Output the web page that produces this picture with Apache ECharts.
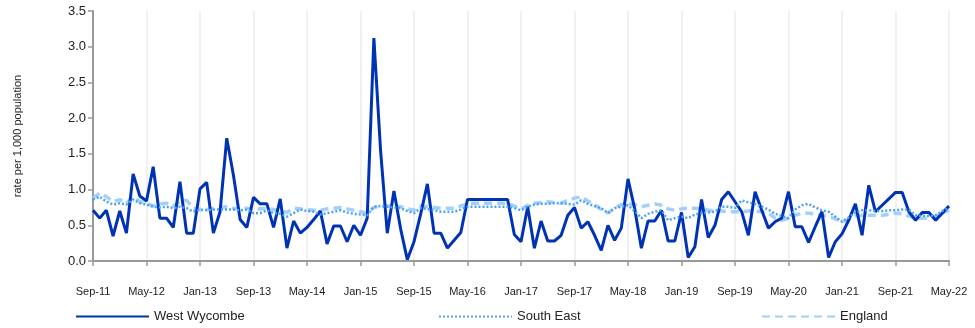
<!DOCTYPE html>
<html>
<head>
<meta charset="utf-8">
<script src="https://cdn.jsdelivr.net/npm/echarts@6/dist/echarts.min.js"></script>
<style>
  html, body { margin: 0; padding: 0; background: #fff; }
  #chart { width: 975px; height: 328px; }
</style>
</head>
<body>
<div id="chart"></div>
<script>
// monthly, Sep-11 .. May-22
const monthNames = ['Jan', 'Feb', 'Mar', 'Apr', 'May', 'Jun', 'Jul', 'Aug', 'Sep', 'Oct', 'Nov', 'Dec'];
const startYear = 2011, startMonth = 8, monthCount = 129;

const westWycombe = [
  0.71, 0.60, 0.71, 0.35, 0.70, 0.39, 1.22, 0.91, 0.84, 1.32,
  0.60, 0.60, 0.47, 1.11, 0.39, 0.39, 1.01, 1.10, 0.39, 0.69,
  1.72, 1.20, 0.58, 0.47, 0.89, 0.80, 0.80, 0.47, 0.87, 0.18,
  0.56, 0.39, 0.47, 0.58, 0.70, 0.24, 0.49, 0.49, 0.27, 0.50,
  0.36, 0.60, 3.12, 1.55, 0.39, 0.98, 0.45, 0.02, 0.27, 0.66,
  1.08, 0.39, 0.39, 0.18, 0.29, 0.40, 0.86, 0.86, 0.86, 0.86,
  0.86, 0.86, 0.86, 0.37, 0.27, 0.76, 0.18, 0.56, 0.28, 0.28,
  0.36, 0.64, 0.75, 0.46, 0.55, 0.36, 0.15, 0.50, 0.29, 0.46,
  1.15, 0.73, 0.18, 0.56, 0.56, 0.71, 0.28, 0.28, 0.68, 0.05,
  0.20, 0.86, 0.33, 0.50, 0.86, 0.97, 0.83, 0.69, 0.36, 0.97,
  0.71, 0.46, 0.55, 0.60, 0.97, 0.48, 0.48, 0.26, 0.48, 0.69,
  0.05, 0.27, 0.38, 0.57, 0.80, 0.36, 1.06, 0.69, 0.78, 0.87,
  0.96, 0.96, 0.69, 0.57, 0.68, 0.68, 0.57, 0.67, 0.77
];

const southEast = [
  0.86, 0.90, 0.83, 0.79, 0.81, 0.79, 0.86, 0.81, 0.79, 0.76,
  0.75, 0.76, 0.74, 0.76, 0.74, 0.69, 0.72, 0.71, 0.72, 0.72,
  0.72, 0.72, 0.71, 0.72, 0.67, 0.67, 0.71, 0.67, 0.66, 0.62,
  0.67, 0.72, 0.70, 0.69, 0.65, 0.67, 0.69, 0.71, 0.68, 0.66,
  0.65, 0.64, 0.76, 0.77, 0.76, 0.75, 0.74, 0.70, 0.67, 0.74,
  0.73, 0.71, 0.69, 0.69, 0.69, 0.72, 0.76, 0.76, 0.76, 0.76,
  0.76, 0.76, 0.76, 0.74, 0.71, 0.76, 0.79, 0.80, 0.80, 0.81,
  0.81, 0.80, 0.79, 0.85, 0.80, 0.77, 0.74, 0.67, 0.74, 0.76,
  0.78, 0.70, 0.60, 0.66, 0.69, 0.71, 0.57, 0.60, 0.62, 0.60,
  0.65, 0.67, 0.68, 0.69, 0.76, 0.76, 0.74, 0.85, 0.82, 0.80,
  0.76, 0.72, 0.66, 0.63, 0.60, 0.72, 0.78, 0.80, 0.75, 0.71,
  0.69, 0.62, 0.55, 0.61, 0.68, 0.71, 0.71, 0.70, 0.70, 0.71,
  0.71, 0.72, 0.72, 0.64, 0.63, 0.63, 0.64, 0.70, 0.74
];

const england = [
  0.88, 0.95, 0.90, 0.83, 0.86, 0.81, 0.90, 0.83, 0.81, 0.77,
  0.80, 0.81, 0.77, 0.83, 0.85, 0.74, 0.72, 0.72, 0.73, 0.75,
  0.76, 0.74, 0.72, 0.74, 0.72, 0.73, 0.74, 0.72, 0.70, 0.68,
  0.74, 0.73, 0.72, 0.71, 0.71, 0.73, 0.74, 0.75, 0.73, 0.71,
  0.69, 0.67, 0.75, 0.77, 0.77, 0.77, 0.76, 0.73, 0.71, 0.77,
  0.76, 0.75, 0.74, 0.74, 0.74, 0.77, 0.80, 0.81, 0.81, 0.81,
  0.81, 0.81, 0.81, 0.77, 0.73, 0.78, 0.81, 0.82, 0.83, 0.82,
  0.81, 0.85, 0.88, 0.90, 0.84, 0.79, 0.72, 0.67, 0.74, 0.79,
  0.80, 0.79, 0.76, 0.78, 0.80, 0.78, 0.73, 0.71, 0.73, 0.74,
  0.74, 0.73, 0.71, 0.70, 0.70, 0.69, 0.69, 0.69, 0.70, 0.70,
  0.69, 0.67, 0.60, 0.57, 0.60, 0.64, 0.67, 0.67, 0.66, 0.64,
  0.62, 0.59, 0.55, 0.58, 0.63, 0.64, 0.64, 0.64, 0.64, 0.65,
  0.67, 0.66, 0.63, 0.60, 0.60, 0.60, 0.63, 0.67, 0.71
];

// category labels like "Sep-11"
let months = [];
for (let k = 0; k < monthCount; k++) {
  let m = (startMonth + k) % 12;
  let y = startYear + Math.floor((startMonth + k) / 12);
  months.push(monthNames[m] + '-' + String(y).slice(2));
}

const chart = echarts.init(document.getElementById('chart'), null, { renderer: 'canvas' });

const fontFamily = 'Liberation Sans, Arial, sans-serif';
const legendText = { fontSize: 13, color: '#222', fontFamily: fontFamily };
// hide the symbol in legend icons, keep the line
const legendBase = {
  top: 305, itemWidth: 73, itemHeight: 12, itemGap: 0,
  itemStyle: { opacity: 0 },
  textStyle: legendText
};

let options = {
  backgroundColor: '#fff',
  animation: false,
  grid: {
    left: 93,
    right: 26,
    top: 11,
    bottom: 67
  },
  legend: [
    Object.assign({ data: ['West Wycombe'], left: 70 }, legendBase),
    Object.assign({ data: ['South East'], left: 433 }, legendBase),
    Object.assign({ data: ['England'], left: 756 }, legendBase)
  ],
  xAxis: {
    type: 'category',
    data: months,
    boundaryGap: false,
    axisLine: { lineStyle: { color: '#999', width: 2 } },
    axisTick: { interval: 7, length: 5, lineStyle: { color: '#999', width: 1.5 } },
    axisLabel: {
      interval: 7,
      margin: 25,
      fontSize: 11,
      color: '#222',
      fontFamily: fontFamily
    },
    splitLine: { show: true, interval: 7, lineStyle: { color: '#ebebeb', width: 1.5 } }
  },
  yAxis: {
    type: 'value',
    min: 0,
    max: 3.5,
    interval: 0.5,
    name: 'rate per 1,000 population',
    nameLocation: 'middle',
    nameRotate: 90,
    nameGap: 70,
    nameTextStyle: { fontSize: 11, color: '#222', fontFamily: fontFamily },
    axisLine: { show: true, lineStyle: { color: '#999', width: 2 } },
    axisTick: { show: true, length: 5, lineStyle: { color: '#999', width: 1.5 } },
    axisLabel: {
      formatter: v => v.toFixed(1),
      fontSize: 13,
      color: '#222',
      margin: 7,
      fontFamily: fontFamily
    },
    splitLine: { show: false }
  },
  series: [
    {
      name: 'West Wycombe',
      type: 'line',
      data: westWycombe,
      symbol: 'none',
      z: 3,
      itemStyle: { color: '#0033b4' },
      lineStyle: { color: '#0033b4', width: 3 }
    },
    {
      name: 'South East',
      type: 'line',
      data: southEast,
      symbol: 'none',
      z: 4,
      itemStyle: { color: '#4aa2f7' },
      lineStyle: { color: '#4aa2f7', width: 2.5, type: [2, 2] }
    },
    {
      name: 'England',
      type: 'line',
      data: england,
      symbol: 'none',
      z: 2,
      itemStyle: { color: '#a3d0fb' },
      lineStyle: { color: '#a3d0fb', width: 3.5, type: [8, 5] }
    }
  ]
};

chart.setOption(options);
</script>
</body>
</html>
